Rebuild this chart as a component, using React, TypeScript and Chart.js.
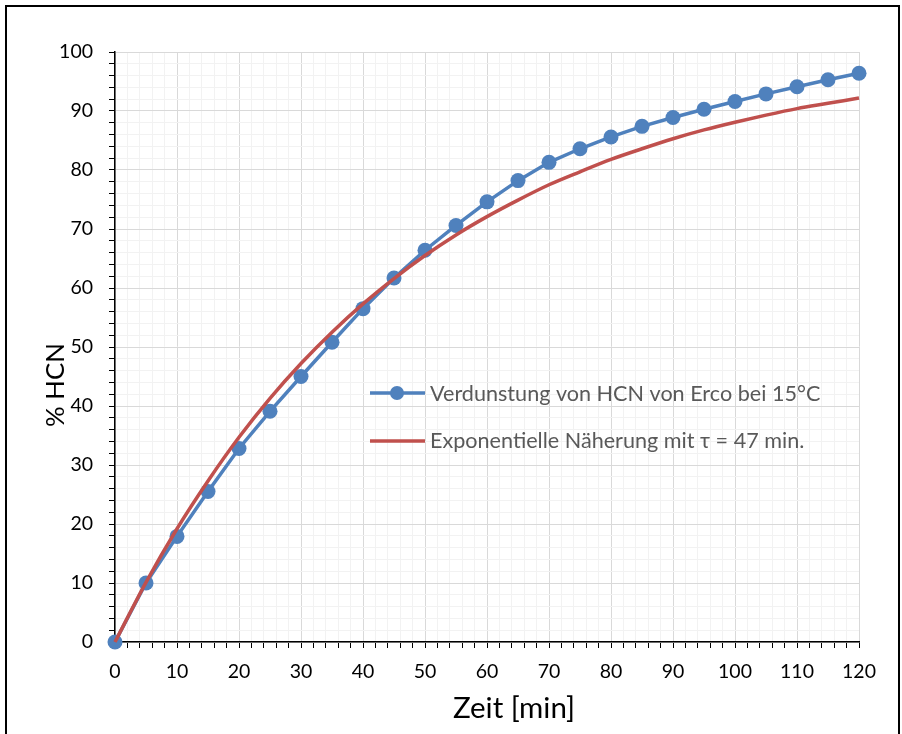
import { useEffect, useRef } from 'react';
import { Chart, registerables } from 'chart.js';

Chart.register(...registerables);

const timeMin = [0, 5, 10, 15, 20, 25, 30, 35, 40, 45, 50, 55, 60, 65, 70, 75, 80, 85, 90, 95, 100, 105, 110, 115, 120];
const measuredHCN = [0, 10, 17.9, 25.5, 32.8, 39.1, 45.0, 50.8, 56.5, 61.7, 66.4, 70.6, 74.6, 78.2, 81.3, 83.6, 85.6, 87.4, 88.9, 90.3, 91.6, 92.9, 94.1, 95.3, 96.4];
const fittedHCN = [0, 10.1, 19.2, 27.3, 34.7, 41.3, 47.2, 52.5, 57.3, 61.6, 65.5, 69.0, 72.1, 74.9, 77.5, 79.7, 81.8, 83.6, 85.3, 86.8, 88.1, 89.3, 90.4, 91.3, 92.2];

const seriesLabels = ['Verdunstung von HCN von Erco bei 15°C', 'Exponentielle Näherung mit τ = 47 min.'];
const xTitle = 'Zeit [min]';
const yTitle = '% HCN';

const FONT = 'Lato, "Open Sans", sans-serif';
const BLUE = '#4F81BD';
const RED = '#C0504D';

function fitSize(text: string, target: number, weight = 'normal'): number {
  const c = document.createElement('canvas').getContext('2d')!;
  c.font = `${weight} 100px ${FONT}`;
  const w = c.measureText(text).width;
  return Math.round((target / w) * 100 * 10) / 10;
}

export default function App() {
  const ref = useRef<HTMLCanvasElement>(null);

  useEffect(() => {
    const canvas = ref.current!;
    const tickSize = fitSize('100', 34);
    const legendSize = fitSize(seriesLabels[0], 390);
    const xTitleSize = fitSize(xTitle, 122);
    const yTitleSize = fitSize(yTitle, 84);

    const decor = {
      id: 'decor',
      afterDraw(chart: any) {
        const ctx = chart.ctx;
        ctx.save();
        ctx.strokeStyle = '#000';
        ctx.lineWidth = 2;
        ctx.strokeRect(6, 6, 893, 740);
        ctx.fillStyle = '#000';
        ctx.font = `${xTitleSize}px ${FONT}`;
        ctx.textAlign = 'center';
        ctx.textBaseline = 'alphabetic';
        ctx.fillText(xTitle, 514, 718);
        ctx.save();
        ctx.font = `${yTitleSize}px ${FONT}`;
        ctx.translate(64, 385);
        ctx.rotate(-Math.PI / 2);
        ctx.fillText(yTitle, 0, 0);
        ctx.restore();
        ctx.font = `${legendSize}px ${FONT}`;
        ctx.textAlign = 'left';
        const rows = [
          { y: 393, base: 401, color: BLUE, dot: true, text: seriesLabels[0] },
          { y: 441, base: 448, color: RED, dot: false, text: seriesLabels[1] },
        ];
        for (const r of rows) {
          ctx.strokeStyle = r.color;
          ctx.lineWidth = 3.5;
          ctx.beginPath();
          ctx.moveTo(370, r.y);
          ctx.lineTo(425, r.y);
          ctx.stroke();
          if (r.dot) {
            ctx.fillStyle = r.color;
            ctx.beginPath();
            ctx.arc(397, r.y, 7, 0, Math.PI * 2);
            ctx.fill();
          }
          ctx.fillStyle = '#595959';
          ctx.fillText(r.text, 430, r.base);
        }
        ctx.restore();
      },
    };

    const gridColor = (c: any) => (c.tick && Math.round(c.tick.value) % 10 === 0 ? '#d9d9d9' : '#f2f2f2');
    const label = (v: any) => (Math.round(v) % 10 === 0 ? String(Math.round(v)) : '');

    const chart = new Chart(canvas, {
      type: 'line',
      data: {
        datasets: [
          {
            label: seriesLabels[0],
            data: timeMin.map((t, i) => ({ x: t, y: measuredHCN[i] })),
            borderColor: BLUE,
            backgroundColor: BLUE,
            borderWidth: 3.5,
            pointRadius: 7.5,
            pointHoverRadius: 7.5,
            pointBorderWidth: 0,
            tension: 0,
            clip: false,
            order: 1,
          },
          {
            label: seriesLabels[1],
            data: timeMin.map((t, i) => ({ x: t, y: fittedHCN[i] })),
            borderColor: RED,
            backgroundColor: RED,
            borderWidth: 3.5,
            pointRadius: 0,
            cubicInterpolationMode: 'monotone',
            clip: false,
            order: 0,
          },
        ],
      },
      options: {
        animation: false,
        responsive: false,
        events: [],
        layout: { padding: { top: 52, right: 43, left: 0, bottom: 0 } },
        plugins: { legend: { display: false }, tooltip: { enabled: false } },
        scales: {
          x: {
            type: 'linear',
            min: 0,
            max: 120,
            afterFit: (s: any) => { s.height = 92; },
            ticks: {
              stepSize: 2,
              autoSkip: false,
              maxRotation: 0,
              callback: label,
              color: '#000',
              font: { family: FONT, size: tickSize },
              padding: 12,
            },
            grid: { color: gridColor, tickColor: '#000', tickLength: 6, lineWidth: 1 },
            border: { color: '#000', width: 1.5 },
          },
          y: {
            type: 'linear',
            min: 0,
            max: 100,
            afterFit: (s: any) => { s.width = 115; },
            ticks: {
              stepSize: 2,
              autoSkip: false,
              callback: label,
              color: '#000',
              font: { family: FONT, size: tickSize },
              padding: 16,
            },
            grid: { color: gridColor, tickColor: '#000', tickLength: 6, lineWidth: 1 },
            border: { color: '#000', width: 1.5 },
          },
        },
      },
      plugins: [decor],
    } as any);
    return () => chart.destroy();
  }, []);

  return (
    <div style={{ width: 902, height: 734 }}>
      <style>{`body{margin:0;background:#fff}`}</style>
      <canvas ref={ref} width={902} height={734} style={{ display: 'block' }} />
    </div>
  );
}
